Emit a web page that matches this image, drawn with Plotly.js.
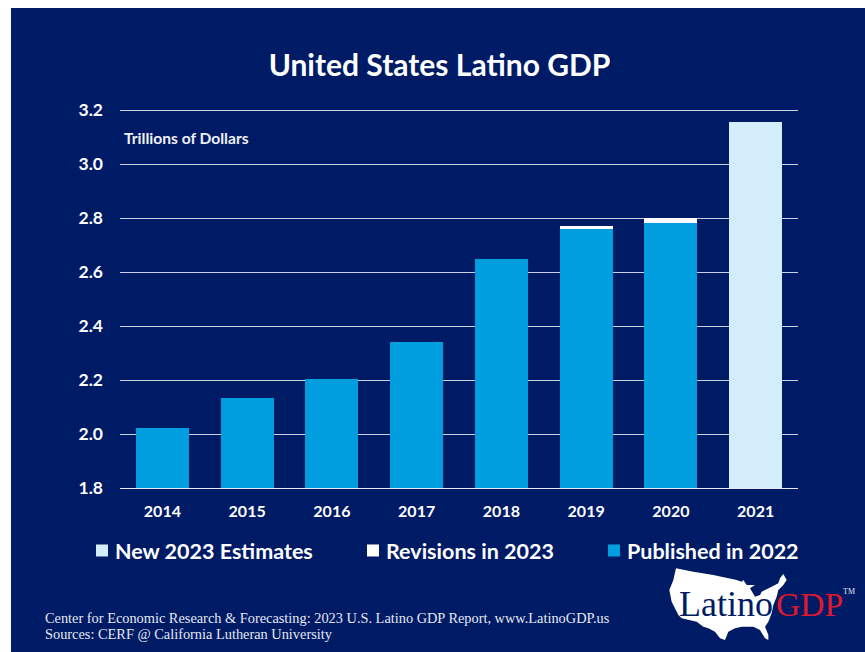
<!DOCTYPE html>
<html><head><meta charset="utf-8">
<script src="https://cdn.plot.ly/plotly-3.0.1.min.js"></script>
<style>html,body{margin:0;padding:0;background:#fff;overflow:hidden}</style></head>
<body><div id="chart" style="width:865px;height:652px"></div>
<script>
const years = ['2014','2015','2016','2017','2018','2019','2020','2021'];
const published = [2.022,2.135,2.205,2.34,2.65,2.76,2.78,0];
const revisions = [0,0,0,0,0,0.01,0.02,0];
const newEstimates = [0,0,0,0,0,0,0,3.155];
const W=865,H=652,L=120,R=798,T=106,B=488;
const px=x=>(x-L)/(R-L), py=y=>(B-y)/(B-T);
const F='Lato, sans-serif', S='Liberation Serif, serif', NAVY='#001b66';
const mapOutline=[[108,115],[160,125],[220,135],[290,150],[305,155],[310,150],[320,165],[345,165],[330,175],[345,200],[360,195],[365,185],[395,170],[415,160],[420,145],[430,132],[440,150],[430,165],[415,180],[410,200],[400,225],[395,250],[385,275],[375,290],[385,315],[385,330],[375,325],[360,300],[340,290],[305,290],[285,295],[265,305],[255,330],[240,325],[225,305],[205,295],[190,290],[170,275],[125,265],[115,255],[95,215],[88,180],[100,150]];
const mapPath='M'+mapOutline.map(p=>px(640+p[0]/3).toFixed(5)+','+py(530+p[1]/3).toFixed(5)).join('L')+'Z';
const traces=[
 {type:'bar',name:'Published in 2022',x:years,y:published,marker:{color:'#009ddf'},legendwidth:170},
 {type:'bar',name:'Revisions in 2023',x:years,y:revisions,marker:{color:'#ffffff'},legendwidth:196},
 {type:'bar',name:'New 2023 Estimates',x:years,y:newEstimates,marker:{color:'#d3eefa'},legendwidth:226}
];
const note=(x,y,text,font)=>({xref:'paper',yref:'paper',x:px(x),y:py(y),xanchor:'left',yanchor:'middle',text,showarrow:false,font});
const layout={
 width:W,height:H,autosize:false,paper_bgcolor:'#ffffff',plot_bgcolor:'rgba(0,0,0,0)',
 margin:{l:L,r:W-R,t:T,b:H-B,pad:0},barmode:'stack',bargap:0.373,
 font:{family:F,color:'#ffffff',size:16},
 title:{text:'<b>United States Latino GDP</b>',font:{family:F,size:30,color:'#fff'},x:(268+611)/2/W,xanchor:'center',y:1-65/H,yanchor:'middle'},
 xaxis:{type:'category',tickfont:{family:F,size:16,weight:700,color:'#fff'},showgrid:false,showline:true,linecolor:'#e8e8ee',linewidth:1,ticks:'',ticklabelstandoff:9,zeroline:false,fixedrange:true},
 yaxis:{range:[1.8,3.2148],tick0:1.8,dtick:0.2,tickformat:'.1f',tickfont:{family:F,size:17.5,weight:700,color:'#fff'},showgrid:true,gridcolor:'#c9cfe0',gridwidth:1,zeroline:false,ticks:'',ticklabelstandoff:16,fixedrange:true,showline:false},
 legend:{orientation:'h',x:px(75),xanchor:'left',y:py(530),yanchor:'top',traceorder:'reversed',font:{family:F,size:21.5,weight:700,color:'#fff'},bgcolor:'rgba(0,0,0,0)'},
 shapes:[
  {type:'rect',layer:'below',xref:'paper',yref:'paper',x0:px(11),x1:px(W),y0:py(H),y1:py(8),fillcolor:NAVY,line:{width:0}},
  {type:'path',layer:'below',xref:'paper',yref:'paper',path:mapPath,fillcolor:'#ffffff',line:{width:0}}
 ],
 annotations:[
  note(122,138,'<b>Trillions of Dollars</b>',{family:F,size:15.6,color:'#eef0f6'}),
  note(43,618,'Center for Economic Research &amp; Forecasting: 2023 U.S. Latino GDP Report, www.LatinoGDP.us',{family:S,size:14.35,color:'#e6e8f0'}),
  note(43,634,'Sources: CERF @ California Lutheran University',{family:S,size:14.35,color:'#e6e8f0'}),
  note(677,604,'Latino',{family:S,size:36,color:NAVY}),
  note(774,604,'GDP',{family:S,size:33.5,color:'#e0182d'}),
  note(841,591,'TM',{family:S,size:8,color:'#e6e8f0'})
 ]
};
Plotly.newPlot('chart',traces,layout,{displayModeBar:false,staticPlot:true}).then(()=>{
  // nudge legend swatches next to their labels (itemwidth cannot go below 30)
  document.querySelectorAll('.legend .legendsymbols').forEach(g=>g.setAttribute('transform','translate(7,0)'));
});
</script></body></html>
